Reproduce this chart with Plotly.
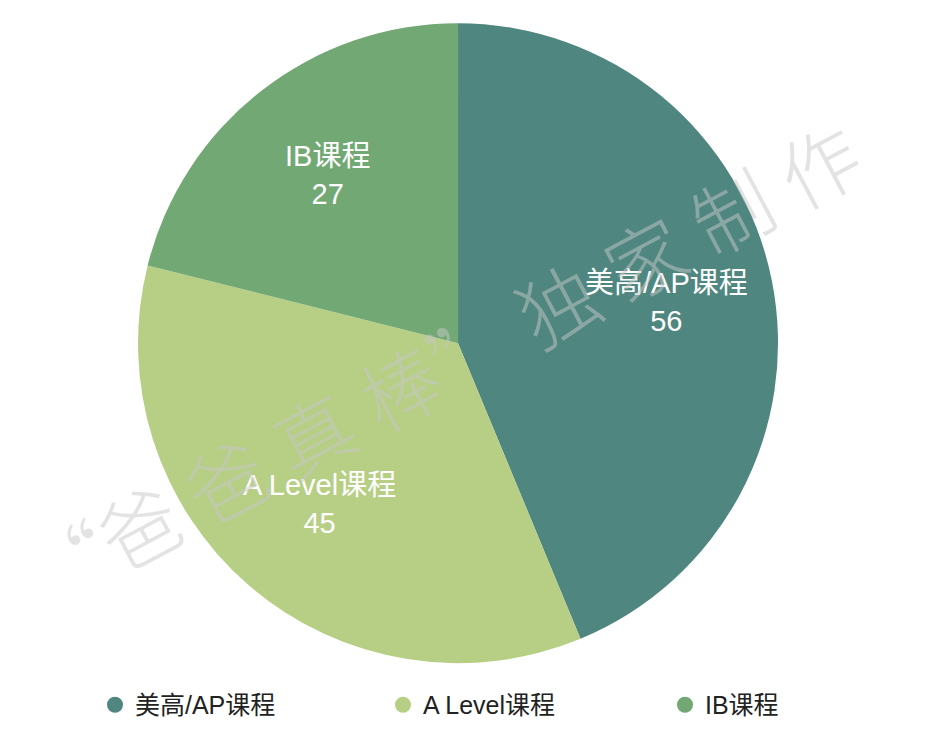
import math
import plotly.graph_objects as go

categories = ["美高/AP课程", "A Level课程", "IB课程"]
values = [56, 45, 27]
colors = ["#4F8780", "#B6CF84", "#71A874"]
watermark = "“爸\u2005爸\u2005真\u2005棒”\u2005独\u2005家\u2005制\u2005作"

FONT = "Liberation Sans, Noto Sans CJK SC, sans-serif"
W, H = 934, 746
DOM_X = [0.1478, 0.833]
DOM_Y = [0.111, 0.969]

fig = go.Figure()
fig.add_trace(go.Pie(
    labels=categories, values=values, sort=False, direction="clockwise",
    rotation=0, marker=dict(colors=colors, line=dict(width=0)),
    textinfo="none", hoverinfo="label+value", showlegend=False,
    domain=dict(x=DOM_X, y=DOM_Y),
))
legend_names = ["legend", "legend2", "legend3"]
for c, col, lg in zip(categories, colors, legend_names):
    fig.add_trace(go.Scatter(
        x=[None], y=[None], mode="markers", name=c, legend=lg,
        marker=dict(symbol="circle", size=22, color=col),
    ))

# inside labels at the middle angle of each slice
cx = (DOM_X[0] + DOM_X[1]) / 2
cy = (DOM_Y[0] + DOM_Y[1]) / 2
R = min((DOM_X[1] - DOM_X[0]) * W, (DOM_Y[1] - DOM_Y[0]) * H) / 2
total = sum(values)
acc = 0
for c, v in zip(categories, values):
    mid = (acc + v / 2) / total * 2 * math.pi
    acc += v
    r = 0.665 * R
    x = cx + r * math.sin(mid) / W
    y = cy + r * math.cos(mid) / H
    fig.add_annotation(
        text=f"{c}<br>{v}", x=x, y=y, xref="paper", yref="paper",
        xanchor="center", yanchor="middle",
        showarrow=False, font=dict(size=29, color="white", family=FONT),
    )

fig.add_annotation(
    text=watermark, x=0.474, y=0.514, xref="paper", yref="paper",
    xanchor="center", yanchor="middle",
    showarrow=False, textangle=-28,
    font=dict(size=79, color="rgba(200,200,200,0.5)", family="Noto Sans CJK SC", weight=300),
)

legend_common = dict(orientation="h", y=0.055, yanchor="middle", xanchor="left",
                     font=dict(size=25, color="#222", family=FONT), itemsizing="trace",
                     bgcolor="rgba(0,0,0,0)")
fig.update_layout(
    width=W, height=H, margin=dict(l=0, r=0, t=0, b=0),
    paper_bgcolor="white", plot_bgcolor="white",
    xaxis=dict(visible=False), yaxis=dict(visible=False),
    legend=dict(x=95 / W, **legend_common),
    legend2=dict(x=383 / W, **legend_common),
    legend3=dict(x=665 / W, **legend_common),
)
fig.write_html("out.html")
